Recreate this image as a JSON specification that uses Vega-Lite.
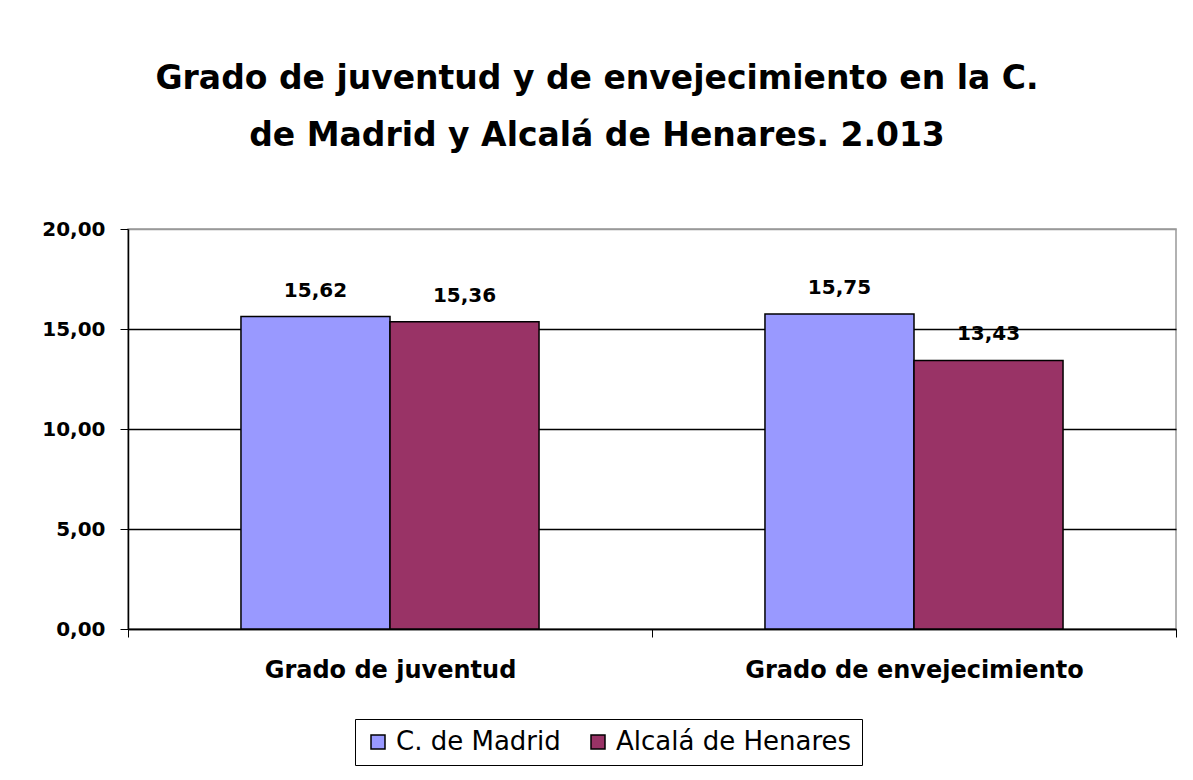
{
  "$schema": "https://vega.github.io/schema/vega-lite/v6.json",
  "width": 1048,
  "height": 400,
  "autosize": "none",
  "padding": {"left": 128, "top": 229, "right": 17, "bottom": 151},
  "background": "white",
  "config": {
    "locale": {"number": {"decimal": ",", "thousands": ".", "grouping": [3], "currency": ["", " €"]}},
    "view": {"stroke": "#999999", "strokeWidth": 1.5},
    "font": "DejaVu Sans"
  },
  "title": {
    "text": ["Grado de juventud y de envejecimiento en la C.", "de Madrid y Alcalá de Henares. 2.013"],
    "font": "DejaVu Sans",
    "fontSize": 33,
    "fontWeight": "bold",
    "color": "black",
    "lineHeight": 57,
    "anchor": "middle",
    "dx": -55,
    "offset": 66
  },
  "data": {
    "values": [
      {"grado": "Grado de juventud", "zona": "C. de Madrid", "valor": 15.62},
      {"grado": "Grado de juventud", "zona": "Alcalá de Henares", "valor": 15.36},
      {"grado": "Grado de envejecimiento", "zona": "C. de Madrid", "valor": 15.75},
      {"grado": "Grado de envejecimiento", "zona": "Alcalá de Henares", "valor": 13.43}
    ]
  },
  "encoding": {
    "x": {
      "field": "grado",
      "type": "nominal",
      "sort": ["Grado de juventud", "Grado de envejecimiento"],
      "scale": {"paddingInner": 0, "paddingOuter": 0},
      "axis": {
        "title": null,
        "labelAngle": 0,
        "labelFont": "DejaVu Sans",
        "labelFontSize": 24,
        "labelFontWeight": "bold",
        "labelColor": "black",
        "labelPadding": 21,
        "labelLimit": 0,
        "tickBand": "extent",
        "tickSize": 8,
        "tickColor": "black",
        "domainColor": "black",
        "domainWidth": 1.5,
        "grid": false
      }
    },
    "xOffset": {
      "field": "zona",
      "type": "nominal",
      "sort": ["C. de Madrid", "Alcalá de Henares"],
      "scale": {"paddingInner": 0, "paddingOuter": 0.758}
    },
    "y": {
      "field": "valor",
      "type": "quantitative",
      "scale": {"domain": [0, 20], "nice": false},
      "axis": {
        "title": null,
        "values": [0, 5, 10, 15, 20],
        "format": ".2f",
        "labelFont": "DejaVu Sans",
        "labelFontSize": 20,
        "labelFontWeight": "bold",
        "labelColor": "black",
        "labelPadding": 15,
        "labelLimit": 0,
        "tickSize": 8,
        "tickColor": "black",
        "domainColor": "black",
        "domainWidth": 1.5,
        "grid": true,
        "gridColor": {"condition": {"test": "datum.value == 20", "value": "#999999"}, "value": "black"},
        "gridWidth": 1.5
      }
    }
  },
  "layer": [
    {
      "mark": {"type": "bar", "stroke": "black", "strokeWidth": 1.5, "opacity": 1},
      "encoding": {
        "color": {
          "field": "zona",
          "type": "nominal",
          "sort": ["C. de Madrid", "Alcalá de Henares"],
          "scale": {"domain": ["C. de Madrid", "Alcalá de Henares"], "range": ["#9999FF", "#993366"]},
          "legend": {
            "title": null,
            "orient": "none",
            "direction": "horizontal",
            "legendX": 227,
            "legendY": 490,
            "strokeColor": "black",
            "fillColor": "white",
            "padding": 10,
            "symbolType": "square",
            "symbolSize": 196,
            "symbolStrokeColor": "black",
            "symbolStrokeWidth": 1.5,
            "symbolOpacity": 1,
            "labelFont": "DejaVu Sans",
            "labelFontSize": 26,
            "labelColor": "black",
            "labelLimit": 0,
            "labelOffset": 5,
            "columnPadding": 24
          }
        }
      }
    },
    {
      "mark": {"type": "text", "baseline": "bottom", "dy": -16, "font": "DejaVu Sans", "fontSize": 20, "fontWeight": "bold", "color": "black"},
      "encoding": {
        "text": {"field": "valor", "type": "quantitative", "format": ".2f"}
      }
    }
  ]
}
